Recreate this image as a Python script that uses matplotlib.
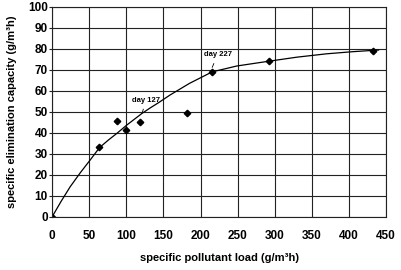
import matplotlib
matplotlib.use("Agg")
import matplotlib.pyplot as plt

# measured points (specific pollutant load vs. specific elimination capacity)
load = [0, 63.8, 87.2, 99.8, 118.7, 182.4, 215.7, 292.6, 432.4]
capacity = [0, 33.0, 45.7, 41.3, 45.1, 49.2, 68.9, 74.1, 78.8]

# fitted curve
curve_x = [0, 12, 24.3, 38, 51.2, 64, 76, 87.2, 100.7, 121, 132, 143.3, 159,
           185, 215.7, 249, 292.6, 330, 370, 405, 440]
curve_y = [0, 7.3, 14.3, 21.0, 27.0, 33.0, 36.6, 39.7, 43.7, 49.2, 51.8, 54.3, 58.0,
           63.5, 69.0, 71.8, 74.1, 76.0, 77.6, 78.6, 79.4]

xticks = [0, 50, 100, 150, 200, 250, 300, 350, 400, 450]
yticks = [0, 10, 20, 30, 40, 50, 60, 70, 80, 90, 100]

plt.rcParams['font.family'] = ['Liberation Sans', 'DejaVu Sans']

fig = plt.figure(figsize=(4.01, 2.70), dpi=100)
ax = fig.add_axes([0.13, 0.197, 0.8326, 0.778])

ax.plot(curve_x, curve_y, color='black', linewidth=0.9)
ax.plot(load, capacity, linestyle='none', marker='D', markersize=3.3,
        color='black')

ax.annotate('day 127', xy=(121, 49.2), xytext=(127, 55.5),
            fontsize=5.5, fontweight='bold', ha='center', va='center',
            arrowprops=dict(arrowstyle='-', color='black', lw=0.6,
                            shrinkA=2, shrinkB=1))
ax.annotate('day 227', xy=(215, 70.5), xytext=(223, 77.2),
            fontsize=5.5, fontweight='bold', ha='center', va='center',
            arrowprops=dict(arrowstyle='-', color='black', lw=0.6,
                            shrinkA=2, shrinkB=1))

ax.set_xlim(0, 450)
ax.set_ylim(0, 100)
ax.set_xticks(xticks)
ax.set_yticks(yticks)
ax.grid(True, color='#222222', linewidth=0.8)
ax.tick_params(axis='x', length=0, labelsize=8.5, pad=9.5)
ax.tick_params(axis='y', length=2, width=0.8, color='#222222', labelsize=8.5, pad=1)
for lab in ax.get_xticklabels() + ax.get_yticklabels():
    lab.set_fontweight('bold')
for s in ax.spines.values():
    s.set_color('#222222')
    s.set_linewidth(0.8)

ax.set_xlabel('specific pollutant load (g/m³h)', fontsize=8, fontweight='bold',
              labelpad=8)
ax.set_ylabel('specific elimination capacity (g/m³h)', fontsize=8,
              fontweight='bold', labelpad=8)

fig.savefig('out.png', dpi=100)
